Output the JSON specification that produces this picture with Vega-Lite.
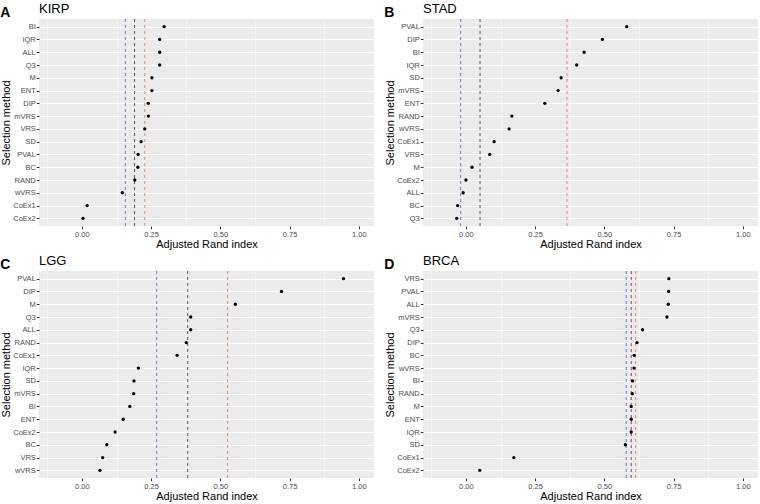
{
"$schema": "https://vega.github.io/schema/vega-lite/v6.json",
"padding": {"left": 0, "top": 2, "right": 4, "bottom": 0},
"datasets": {
"ari": [
{"panel":"KIRP","method":"BI","ari":0.297},{"panel":"KIRP","method":"IQR","ari":0.281},{"panel":"KIRP","method":"ALL","ari":0.281},{"panel":"KIRP","method":"Q3","ari":0.281},{"panel":"KIRP","method":"M","ari":0.253},{"panel":"KIRP","method":"ENT","ari":0.253},{"panel":"KIRP","method":"DIP","ari":0.240},{"panel":"KIRP","method":"mVRS","ari":0.240},{"panel":"KIRP","method":"VRS","ari":0.227},{"panel":"KIRP","method":"SD","ari":0.214},{"panel":"KIRP","method":"PVAL","ari":0.203},{"panel":"KIRP","method":"BC","ari":0.202},{"panel":"KIRP","method":"RAND","ari":0.191},{"panel":"KIRP","method":"wVRS","ari":0.146},{"panel":"KIRP","method":"CoEx1","ari":0.019},{"panel":"KIRP","method":"CoEx2","ari":0.004},
{"panel":"STAD","method":"PVAL","ari":0.581},{"panel":"STAD","method":"DIP","ari":0.493},{"panel":"STAD","method":"BI","ari":0.427},{"panel":"STAD","method":"IQR","ari":0.400},{"panel":"STAD","method":"SD","ari":0.344},{"panel":"STAD","method":"mVRS","ari":0.333},{"panel":"STAD","method":"ENT","ari":0.285},{"panel":"STAD","method":"RAND","ari":0.166},{"panel":"STAD","method":"wVRS","ari":0.156},{"panel":"STAD","method":"CoEx1","ari":0.102},{"panel":"STAD","method":"VRS","ari":0.086},{"panel":"STAD","method":"M","ari":0.022},{"panel":"STAD","method":"CoEx2","ari":0.000},{"panel":"STAD","method":"ALL","ari":-0.010},{"panel":"STAD","method":"BC","ari":-0.030},{"panel":"STAD","method":"Q3","ari":-0.033},
{"panel":"LGG","method":"PVAL","ari":0.945},{"panel":"LGG","method":"DIP","ari":0.721},{"panel":"LGG","method":"M","ari":0.554},{"panel":"LGG","method":"Q3","ari":0.393},{"panel":"LGG","method":"ALL","ari":0.393},{"panel":"LGG","method":"RAND","ari":0.377},{"panel":"LGG","method":"CoEx1","ari":0.344},{"panel":"LGG","method":"IQR","ari":0.204},{"panel":"LGG","method":"SD","ari":0.188},{"panel":"LGG","method":"mVRS","ari":0.187},{"panel":"LGG","method":"BI","ari":0.173},{"panel":"LGG","method":"ENT","ari":0.149},{"panel":"LGG","method":"CoEx2","ari":0.120},{"panel":"LGG","method":"BC","ari":0.090},{"panel":"LGG","method":"VRS","ari":0.075},{"panel":"LGG","method":"wVRS","ari":0.065},
{"panel":"BRCA","method":"VRS","ari":0.733},{"panel":"BRCA","method":"PVAL","ari":0.732},{"panel":"BRCA","method":"ALL","ari":0.731},{"panel":"BRCA","method":"mVRS","ari":0.726},{"panel":"BRCA","method":"Q3","ari":0.638},{"panel":"BRCA","method":"DIP","ari":0.618},{"panel":"BRCA","method":"BC","ari":0.608},{"panel":"BRCA","method":"wVRS","ari":0.607},{"panel":"BRCA","method":"BI","ari":0.602},{"panel":"BRCA","method":"RAND","ari":0.601},{"panel":"BRCA","method":"M","ari":0.597},{"panel":"BRCA","method":"ENT","ari":0.597},{"panel":"BRCA","method":"IQR","ari":0.597},{"panel":"BRCA","method":"SD","ari":0.576},{"panel":"BRCA","method":"CoEx1","ari":0.173},{"panel":"BRCA","method":"CoEx2","ari":0.050}
],
"ref": [
{"panel":"KIRP","line":"blue","value":0.157},{"panel":"KIRP","line":"black","value":0.190},{"panel":"KIRP","line":"red","value":0.227},
{"panel":"STAD","line":"blue","value":-0.019},{"panel":"STAD","line":"black","value":0.051},{"panel":"STAD","line":"red","value":0.365},
{"panel":"LGG","line":"blue","value":0.270},{"panel":"LGG","line":"black","value":0.382},{"panel":"LGG","line":"red","value":0.526},
{"panel":"BRCA","line":"blue","value":0.579},{"panel":"BRCA","line":"black","value":0.597},{"panel":"BRCA","line":"red","value":0.613}
]
},
"config": {
"font": "Liberation Sans",
"view": {"fill": "#EBEBEB", "stroke": null},
"axis": {"domain": false, "tickColor": "#333333", "tickSize": 2.7, "labelColor": "#4D4D4D", "labelFontSize": 7.5, "titleFontSize": 11, "titleFontWeight": "normal", "titleColor": "#000000", "gridColor": "#FFFFFF", "gridWidth": 1, "labelPadding": 1},
"title": {"fontWeight": "normal", "fontSize": 13, "anchor": "start", "color": "#000000"}
},
"concat": [
{"title": {"text": "A", "fontWeight": "bold", "fontSize": 14, "frame": "bounds", "anchor": "start", "offset": -17},
 "vconcat": [{"width": 335, "height": 207, "title": {"text": "KIRP", "frame": "group", "offset": 3},
  "resolve": {"axis": {"x": "independent"}},
  "layer": [
   {"data": {"name": "ref"}, "transform": [{"filter": "datum.panel === 'KIRP'"}], "mark": {"type": "rule", "strokeDash": [3, 3], "strokeWidth": 1},
    "encoding": {"x": {"field": "value", "type": "quantitative", "scale": {"domain": [-0.155, 1.055], "nice": false, "zero": false}, "axis": {"orient": "top", "values": [-0.125, 0.125, 0.375, 0.625, 0.875], "grid": true, "gridWidth": 0.5, "labels": false, "ticks": false, "title": null}},
     "color": {"condition": [{"test": "datum.line === 'blue'", "value": "#6F6FF6"}, {"test": "datum.line === 'red'", "value": "#EE7F7F"}], "value": "#555555"}}},
   {"data": {"name": "ari"}, "transform": [{"filter": "datum.panel === 'KIRP'"}], "mark": {"type": "point", "filled": true, "size": 11, "color": "#000000", "opacity": 1},
    "encoding": {"x": {"field": "ari", "type": "quantitative", "scale": {"domain": [-0.155, 1.055], "nice": false, "zero": false}, "axis": {"values": [0, 0.25, 0.5, 0.75, 1], "format": ".2f", "title": "Adjusted Rand index", "titlePadding": 0, "labelPadding": 2}},
     "y": {"field": "method", "type": "nominal", "sort": ["BI","IQR","ALL","Q3","M","ENT","DIP","mVRS","VRS","SD","PVAL","BC","RAND","wVRS","CoEx1","CoEx2"], "scale": {"type": "point", "padding": 0.6}, "axis": {"title": "Selection method", "grid": true, "titlePadding": 1.5}}}}
  ]}]},
{"title": {"text": "B", "fontWeight": "bold", "fontSize": 14, "frame": "bounds", "anchor": "start", "offset": -17},
 "vconcat": [{"width": 335, "height": 207, "title": {"text": "STAD", "frame": "group", "offset": 3},
  "resolve": {"axis": {"x": "independent"}},
  "layer": [
   {"data": {"name": "ref"}, "transform": [{"filter": "datum.panel === 'STAD'"}], "mark": {"type": "rule", "strokeDash": [3, 3], "strokeWidth": 1},
    "encoding": {"x": {"field": "value", "type": "quantitative", "scale": {"domain": [-0.155, 1.055], "nice": false, "zero": false}, "axis": {"orient": "top", "values": [-0.125, 0.125, 0.375, 0.625, 0.875], "grid": true, "gridWidth": 0.5, "labels": false, "ticks": false, "title": null}},
     "color": {"condition": [{"test": "datum.line === 'blue'", "value": "#6F6FF6"}, {"test": "datum.line === 'red'", "value": "#EE7F7F"}], "value": "#555555"}}},
   {"data": {"name": "ari"}, "transform": [{"filter": "datum.panel === 'STAD'"}], "mark": {"type": "point", "filled": true, "size": 11, "color": "#000000", "opacity": 1},
    "encoding": {"x": {"field": "ari", "type": "quantitative", "scale": {"domain": [-0.155, 1.055], "nice": false, "zero": false}, "axis": {"values": [0, 0.25, 0.5, 0.75, 1], "format": ".2f", "title": "Adjusted Rand index", "titlePadding": 0, "labelPadding": 2}},
     "y": {"field": "method", "type": "nominal", "sort": ["PVAL","DIP","BI","IQR","SD","mVRS","ENT","RAND","wVRS","CoEx1","VRS","M","CoEx2","ALL","BC","Q3"], "scale": {"type": "point", "padding": 0.6}, "axis": {"title": "Selection method", "grid": true, "titlePadding": 1.5}}}}
  ]}]},
{"title": {"text": "C", "fontWeight": "bold", "fontSize": 14, "frame": "bounds", "anchor": "start", "offset": -17},
 "vconcat": [{"width": 335, "height": 207, "title": {"text": "LGG", "frame": "group", "offset": 3},
  "resolve": {"axis": {"x": "independent"}},
  "layer": [
   {"data": {"name": "ref"}, "transform": [{"filter": "datum.panel === 'LGG'"}], "mark": {"type": "rule", "strokeDash": [3, 3], "strokeWidth": 1},
    "encoding": {"x": {"field": "value", "type": "quantitative", "scale": {"domain": [-0.155, 1.055], "nice": false, "zero": false}, "axis": {"orient": "top", "values": [-0.125, 0.125, 0.375, 0.625, 0.875], "grid": true, "gridWidth": 0.5, "labels": false, "ticks": false, "title": null}},
     "color": {"condition": [{"test": "datum.line === 'blue'", "value": "#6F6FF6"}, {"test": "datum.line === 'red'", "value": "#EE7F7F"}], "value": "#555555"}}},
   {"data": {"name": "ari"}, "transform": [{"filter": "datum.panel === 'LGG'"}], "mark": {"type": "point", "filled": true, "size": 11, "color": "#000000", "opacity": 1},
    "encoding": {"x": {"field": "ari", "type": "quantitative", "scale": {"domain": [-0.155, 1.055], "nice": false, "zero": false}, "axis": {"values": [0, 0.25, 0.5, 0.75, 1], "format": ".2f", "title": "Adjusted Rand index", "titlePadding": 0, "labelPadding": 2}},
     "y": {"field": "method", "type": "nominal", "sort": ["PVAL","DIP","M","Q3","ALL","RAND","CoEx1","IQR","SD","mVRS","BI","ENT","CoEx2","BC","VRS","wVRS"], "scale": {"type": "point", "padding": 0.6}, "axis": {"title": "Selection method", "grid": true, "titlePadding": 1.5}}}}
  ]}]},
{"title": {"text": "D", "fontWeight": "bold", "fontSize": 14, "frame": "bounds", "anchor": "start", "offset": -17},
 "vconcat": [{"width": 335, "height": 207, "title": {"text": "BRCA", "frame": "group", "offset": 3},
  "resolve": {"axis": {"x": "independent"}},
  "layer": [
   {"data": {"name": "ref"}, "transform": [{"filter": "datum.panel === 'BRCA'"}], "mark": {"type": "rule", "strokeDash": [3, 3], "strokeWidth": 1},
    "encoding": {"x": {"field": "value", "type": "quantitative", "scale": {"domain": [-0.155, 1.055], "nice": false, "zero": false}, "axis": {"orient": "top", "values": [-0.125, 0.125, 0.375, 0.625, 0.875], "grid": true, "gridWidth": 0.5, "labels": false, "ticks": false, "title": null}},
     "color": {"condition": [{"test": "datum.line === 'blue'", "value": "#6F6FF6"}, {"test": "datum.line === 'red'", "value": "#EE7F7F"}], "value": "#555555"}}},
   {"data": {"name": "ari"}, "transform": [{"filter": "datum.panel === 'BRCA'"}], "mark": {"type": "point", "filled": true, "size": 11, "color": "#000000", "opacity": 1},
    "encoding": {"x": {"field": "ari", "type": "quantitative", "scale": {"domain": [-0.155, 1.055], "nice": false, "zero": false}, "axis": {"values": [0, 0.25, 0.5, 0.75, 1], "format": ".2f", "title": "Adjusted Rand index", "titlePadding": 0, "labelPadding": 2}},
     "y": {"field": "method", "type": "nominal", "sort": ["VRS","PVAL","ALL","mVRS","Q3","DIP","BC","wVRS","BI","RAND","M","ENT","IQR","SD","CoEx1","CoEx2"], "scale": {"type": "point", "padding": 0.6}, "axis": {"title": "Selection method", "grid": true, "titlePadding": 1.5}}}}
  ]}]}
],
"columns": 2,
"spacing": {"row": 4, "column": 10}
}
